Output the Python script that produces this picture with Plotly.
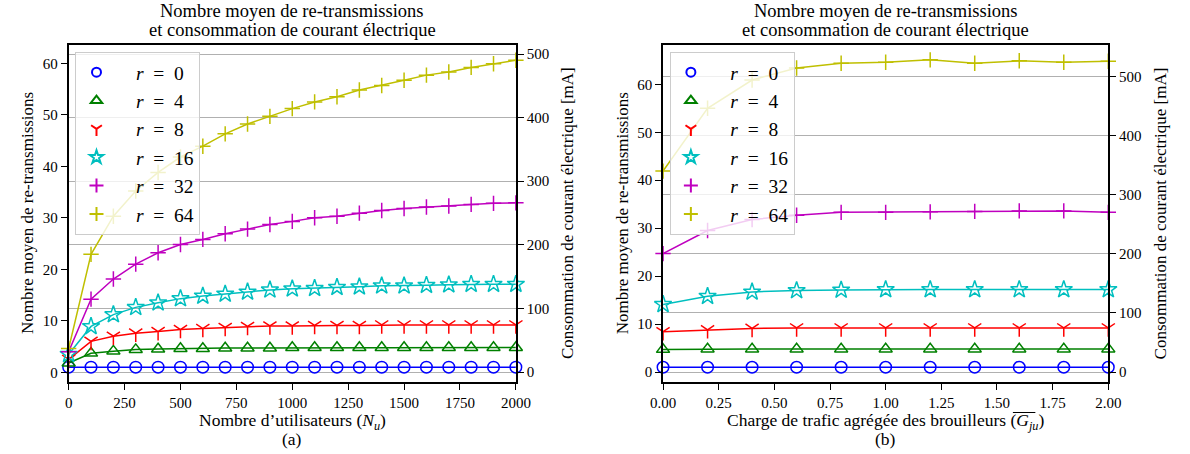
import plotly.graph_objects as go

W, H = 1190, 454

# ---------------- data ----------------
users = [0, 100, 200, 300, 400, 500, 600, 700, 800, 900, 1000,
         1100, 1200, 1300, 1400, 1500, 1600, 1700, 1800, 1900, 2000]
load = [0.0, 0.2, 0.4, 0.6, 0.8, 1.0, 1.2, 1.4, 1.6, 1.8, 2.0]

r_values = ["0", "4", "8", "16", "32", "64"]

users_r0 = [1.0, 1.0, 1.0, 1.0, 1.0, 1.0, 1.0, 1.0, 1.0, 1.0, 1.0,
            1.0, 1.0, 1.0, 1.0, 1.0, 1.0, 1.0, 1.0, 1.0, 1.0]
users_r4 = [1.8, 3.7, 4.1, 4.4, 4.5, 4.6, 4.6, 4.7, 4.7, 4.7, 4.8,
            4.8, 4.8, 4.8, 4.8, 4.8, 4.8, 4.8, 4.8, 4.8, 4.8]
users_r8 = [2.5, 6.0, 7.0, 7.6, 7.9, 8.3, 8.5, 8.7, 8.9, 9.0, 9.0,
            9.1, 9.1, 9.1, 9.2, 9.2, 9.2, 9.2, 9.2, 9.2, 9.2]
users_r16 = [3.5, 8.9, 11.2, 12.6, 13.5, 14.3, 14.8, 15.2, 15.6, 16.0, 16.2,
             16.3, 16.5, 16.6, 16.8, 16.8, 16.9, 17.0, 17.1, 17.1, 17.1]
users_r32 = [4.0, 14.2, 18.1, 21.0, 23.2, 24.8, 25.8, 26.9, 27.8, 28.7, 29.3,
             30.0, 30.3, 30.9, 31.4, 31.8, 32.1, 32.3, 32.6, 32.8, 32.9]
users_r64 = [4.6, 22.9, 30.3, 35.2, 38.8, 41.8, 43.9, 46.3, 48.2, 49.7, 51.2,
             52.5, 53.5, 54.8, 55.7, 56.7, 57.7, 58.3, 59.2, 59.9, 60.6]

load_r0 = [1.0, 1.0, 1.0, 1.0, 1.0, 1.0, 1.0, 1.0, 1.0, 1.0, 1.0]
load_r4 = [4.7, 4.8, 4.8, 4.8, 4.8, 4.8, 4.8, 4.8, 4.8, 4.8, 4.8]
load_r8 = [8.4, 8.8, 9.1, 9.2, 9.2, 9.2, 9.2, 9.2, 9.2, 9.2, 9.2]
load_r16 = [14.1, 15.8, 16.7, 17.0, 17.1, 17.2, 17.2, 17.2, 17.2, 17.2, 17.2]
load_r32 = [24.7, 29.5, 31.8, 32.7, 33.3, 33.3, 33.4, 33.5, 33.6, 33.6, 33.3]
load_r64 = [41.9, 55.0, 60.9, 63.4, 64.4, 64.6, 65.1, 64.4, 64.9, 64.6, 64.8]

users_series = [users_r0, users_r4, users_r8, users_r16, users_r32, users_r64]
load_series = [load_r0, load_r4, load_r8, load_r16, load_r32, load_r64]

left_ticks = [0, 10, 20, 30, 40, 50, 60]
right_ticks = [0, 100, 200, 300, 400, 500]

# ---------------- styles ----------------
colors = ["#0000ff", "#008000", "#ff0000", "#00bfbf", "#bf00bf", "#bfbf00"]
symbols = ["circle-open", "triangle-up-open", "y-down-open", "star-open",
           "cross-thin-open", "cross-thin-open"]
sizes = [11.5, 11.5, 11, 13, 11, 11]
leg_sizes = [9, 10, 9, 10, 10, 10]

FONT = "Liberation Serif"


def px_x(p):
    return p / W


def px_y(p):
    return 1 - p / H


fig = go.Figure()

panels = [
    dict(x=users, series=users_series, xa="x", ya="y", ya2="y2", legend="legend"),
    dict(x=load, series=load_series, xa="x2", ya="y3", ya2="y4", legend="legend2"),
]

for pnl in panels:
    # holder so the current-consumption (right) axis is drawn
    fig.add_trace(go.Scatter(x=[None], y=[None], mode="lines",
                             xaxis=pnl["xa"], yaxis=pnl["ya2"],
                             showlegend=False, hoverinfo="skip"))
    for i, ys in enumerate(pnl["series"]):
        fig.add_trace(go.Scatter(
            x=pnl["x"], y=ys, mode="lines+markers",
            xaxis=pnl["xa"], yaxis=pnl["ya"],
            line=dict(color=colors[i], width=1.5),
            marker=dict(symbol=symbols[i], size=sizes[i], color=colors[i],
                        line=dict(color=colors[i], width=1.5)),
            showlegend=False, cliponaxis=False,
        ))
    for i, rv in enumerate(r_values):
        fig.add_trace(go.Scatter(
            x=[None], y=[None], mode="markers",
            xaxis=pnl["xa"], yaxis=pnl["ya"],
            name="\u2002\u2002<i>r</i>\u2002=\u2002" + rv,
            legend=pnl["legend"], legendgroup=pnl["legend"] + rv,
            marker=dict(symbol=symbols[i], size=leg_sizes[i], color=colors[i],
                        line=dict(color=colors[i], width=2)),
        ))

axis_common = dict(
    showline=True, linecolor="black", linewidth=1.6,
    ticks="outside", ticklen=6, tickwidth=1.3, tickcolor="black",
    tickfont=dict(family=FONT, size=15, color="black"),
    zeroline=False, showgrid=False,
)

# panel geometry (pixels)
L1, R1 = 57, 515
L2, R2 = 665.7, 1121.7
TOP, BOT = 45, 381.7

fig.update_layout(
    width=W, height=H,
    margin=dict(l=0, r=0, t=0, b=0),
    paper_bgcolor="white", plot_bgcolor="white",
    font=dict(family=FONT, color="black"),
    xaxis=dict(domain=[px_x(L1), px_x(R1)], anchor="y", range=[0, 2000],
               tickvals=[0, 250, 500, 750, 1000, 1250, 1500, 1750, 2000],
               mirror=True, **axis_common),
    yaxis=dict(domain=[px_y(BOT), px_y(TOP)], anchor="x", range=[-1.83, 63.55],
               tickvals=left_ticks, **axis_common),
    yaxis2=dict(overlaying="y", anchor="x", side="right", range=[-15.25, 514.2],
                tickvals=right_ticks,
                **{**axis_common, "showgrid": True},
                gridcolor="#b0b0b0", gridwidth=1.2),
    xaxis2=dict(domain=[px_x(L2), px_x(R2)], anchor="y3", range=[0, 2.0],
                tickvals=[0, 0.25, 0.5, 0.75, 1.0, 1.25, 1.5, 1.75, 2.0],
                tickformat=".2f", mirror=True, **axis_common),
    yaxis3=dict(domain=[px_y(BOT), px_y(TOP)], anchor="x2", range=[-2.02, 68.2],
                tickvals=left_ticks, **axis_common),
    yaxis4=dict(overlaying="y3", anchor="x2", side="right", range=[-16.4, 553],
                tickvals=right_ticks,
                **{**axis_common, "showgrid": True},
                gridcolor="#b0b0b0", gridwidth=1.2),
)

legend_common = dict(
    bgcolor="rgba(255,255,255,0.8)", bordercolor="#cccccc", borderwidth=1,
    font=dict(family=FONT, size=19.5, color="black"),
    xanchor="left", yanchor="top", itemwidth=30, tracegroupgap=0,
    traceorder="grouped",
)
fig.update_layout(
    legend=dict(x=px_x(64), y=px_y(52), **legend_common),
    legend2=dict(x=px_x(672.7), y=px_y(52), **legend_common),
)

annotations = []


def ann(text, xp, yp, size, angle=0):
    annotations.append(dict(
        text=text, x=px_x(xp), y=px_y(yp), xref="paper", yref="paper",
        xanchor="center", yanchor="middle", showarrow=False, textangle=angle,
        font=dict(family=FONT, size=size, color="black"),
    ))


for (L, R, xlabel, sub) in [
    (L1, R1, "Nombre d\u2019utilisateurs (<i>N<sub>u</sub></i>)", "(a)"),
    (L2, R2, "Charge de trafic agr\u00e9g\u00e9e des brouilleurs "
             "(<i>G<sub>ju</sub></i>)", "(b)"),
]:
    cx = (L + R) / 2
    ann("Nombre moyen de re-transmissions", cx, 10.5, 18.5)
    ann("et consommation de courant \u00e9lectrique", cx, 29.5, 18.5)
    ann(xlabel, cx, 421, 17.5)
    ann(sub, cx, 439, 17.5)
    ann("Nombre moyen de re-transmissions", L - 42, (TOP + BOT) / 2, 17, -90)
    ann("Consommation de courant \u00e9lectrique [mA]", R + 53, (TOP + BOT) / 2, 17, -90)

fig.update_layout(annotations=annotations)

# overline of the mean traffic-load symbol in the right x-axis label
fig.add_shape(type="line", xref="paper", yref="paper",
              x0=px_x(1024), x1=px_x(1047), y0=px_y(412.5), y1=px_y(412.5),
              line=dict(color="black", width=1))

fig.write_html("out.html")
